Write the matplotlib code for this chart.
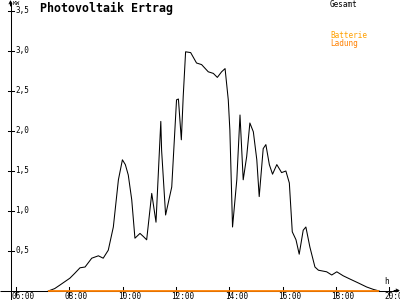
import matplotlib
matplotlib.use("Agg")
import matplotlib.pyplot as plt

hours = [7.21, 7.45, 7.65, 8.02, 8.2, 8.4, 8.59, 8.84, 9.09, 9.27, 9.46, 9.65, 9.84, 9.99, 10.1,
         10.21, 10.34, 10.46, 10.65, 10.78, 10.9, 11.09, 11.25, 11.43, 11.46, 11.61, 11.84, 12.02,
         12.09, 12.2, 12.27, 12.36, 12.55, 12.77, 12.96, 13.21, 13.4, 13.55, 13.71, 13.84, 13.96,
         14.02, 14.12, 14.28, 14.4, 14.52, 14.65, 14.77, 14.9, 15.03, 15.12, 15.27, 15.37, 15.5,
         15.62, 15.78, 15.96, 16.12, 16.25, 16.36, 16.5, 16.62, 16.77, 16.87, 17.02, 17.21, 17.34,
         17.65, 17.84, 18.03, 18.27, 18.52, 18.84, 19.15, 19.4, 19.62]
gesamt_kw = [0.0, 0.03, 0.075, 0.16, 0.22, 0.29, 0.30, 0.41, 0.44, 0.41, 0.51, 0.80, 1.39, 1.64, 1.58,
             1.45, 1.14, 0.66, 0.72, 0.68, 0.64, 1.22, 0.86, 2.12, 1.76, 0.95, 1.30, 2.39,
             2.40, 1.89, 2.43, 2.99, 2.98, 2.85, 2.83, 2.74, 2.72, 2.67, 2.74, 2.78, 2.39,
             2.01, 0.80, 1.39, 2.20, 1.39, 1.68, 2.10, 1.99, 1.64, 1.18, 1.78, 1.83, 1.58,
             1.46, 1.58, 1.48, 1.50, 1.35, 0.74, 0.64, 0.46, 0.76, 0.80, 0.55, 0.30, 0.26,
             0.24, 0.20, 0.24, 0.19, 0.15, 0.10, 0.05, 0.02, 0.0]
batterie_hours = [7.21, 19.62]
batterie_kw = [0.0, 0.0]

x_ticks = [6, 8, 10, 12, 14, 16, 18, 20]
x_labels = ["06:00", "08:00", "10:00", "12:00", "14:00", "16:00", "18:00", "20:00"]
y_ticks = [0.5, 1.0, 1.5, 2.0, 2.5, 3.0, 3.5]
y_labels = ["0,5", "1,0", "1,5", "2,0", "2,5", "3,0", "3,5"]

# pixel mapping: x_px = 16 + 26.667*(h-6); y_px = 291 - 80*v
pxh = 26.667
x0 = 6 - 16 / pxh
x1 = 6 + 384 / pxh
y0 = (291 - 300) / 80
y1 = 291 / 80

fig = plt.figure(figsize=(4, 3), dpi=100)
ax = fig.add_axes([0, 0, 1, 1])
ax.set_xlim(x0, x1)
ax.set_ylim(y0, y1)
ax.axis("off")

dx = 1 / pxh  # one pixel in hours
dy = 1 / 80   # one pixel in kW
axis_x = x0 + 10.5 * dx
axis_y = (291 - 290.5) / 80

mono = "DejaVu Sans Mono"
small = 5.5
orange = "#ff8000"
lw = 0.75

# axes lines
ax.plot([x0, x1 - 2 * dx], [axis_y, axis_y], color="black", lw=lw, solid_capstyle="butt")
ax.plot([axis_x, axis_x], [y0, y1 - 2 * dy], color="black", lw=lw, solid_capstyle="butt")
ax.annotate("", xy=(x1, axis_y), xytext=(x1 - 6 * dx, axis_y),
            arrowprops=dict(arrowstyle="->", lw=lw, color="black", shrinkA=0, shrinkB=0,
                            mutation_scale=5))
ax.annotate("", xy=(axis_x, y1), xytext=(axis_x, y1 - 6 * dy),
            arrowprops=dict(arrowstyle="->", lw=lw, color="black", shrinkA=0, shrinkB=0,
                            mutation_scale=5))

# ticks
for t, lab in zip(x_ticks, x_labels):
    ax.plot([t, t], [axis_y - 4 * dy, axis_y + 4 * dy], color="black", lw=lw)
    ax.text(t - 4.5 * dx, axis_y - 6 * dy, lab, family=mono, fontsize=small,
            ha="left", va="center", color="black")
for t, lab in zip(y_ticks, y_labels):
    ax.plot([axis_x - 3 * dx, axis_x + 3 * dx], [t, t], color="black", lw=lw)
    ax.text(axis_x + 5 * dx, t, lab, family=mono, fontsize=small,
            ha="left", va="center", color="black")

# data
ax.plot(hours, gesamt_kw, color="black", lw=lw, zorder=2)
ax.plot(batterie_hours, batterie_kw, color=orange, lw=1.3, zorder=3, solid_capstyle="butt")

# texts
ax.text(x0 + 13 * dx, y1 - 1 * dy, "KW", family=mono, fontsize=4.3, ha="left", va="top")
ax.text(x0 + 40 * dx, y1 - 8 * dy, "Photovoltaik Ertrag", family=mono, fontsize=8.4,
        fontweight="bold", ha="left", va="center")
ax.text(x0 + 330 * dx, y1 - 4.5 * dy, "Gesamt", family=mono, fontsize=small,
        ha="left", va="center", color="black")
ax.text(x0 + 330 * dx, y1 - 36 * dy, "Batterie", family=mono, fontsize=small,
        ha="left", va="center", color="#ffa000")
ax.text(x0 + 330 * dx, y1 - 44 * dy, "Ladung", family=mono, fontsize=small,
        ha="left", va="center", color=orange)
ax.text(x0 + 387 * dx, y1 - 281 * dy, "h", family=mono, fontsize=small,
        ha="center", va="center", color="black")

fig.savefig("out.png", dpi=100)
